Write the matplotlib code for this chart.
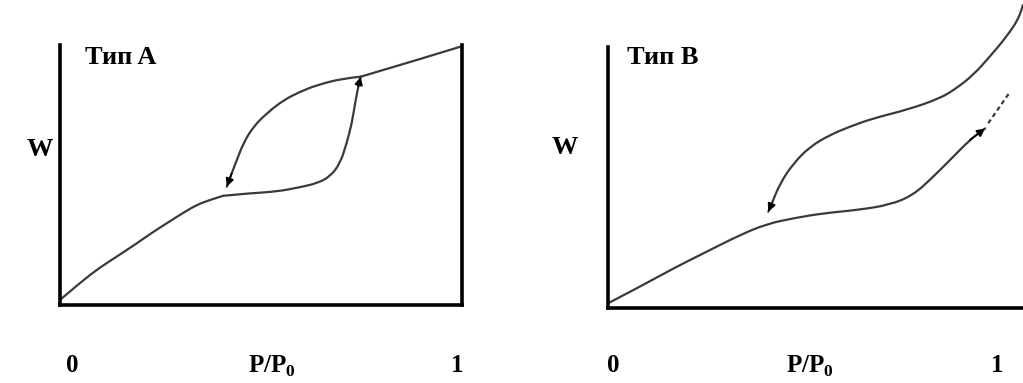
import matplotlib.pyplot as plt
from matplotlib.path import Path
from matplotlib.patches import PathPatch

# --- Тип A: основная кривая + петля гистерезиса ---
a_main_x = [0.0, 0.058, 0.10, 0.141, 0.191, 0.224, 0.265, 0.307, 0.34, 0.373, 0.406]
a_main_y = [0.02, 0.096, 0.145, 0.186, 0.237, 0.273, 0.314, 0.355, 0.385, 0.404, 0.42]

a_ads_x = [0.406, 0.473, 0.539, 0.597, 0.639, 0.672, 0.697, 0.713, 0.726, 0.734, 0.742, 0.748]
a_ads_y = [0.42, 0.43, 0.436, 0.453, 0.468, 0.494, 0.545, 0.622, 0.699, 0.776, 0.84, 0.878]

a_top_x = [0.748, 0.804, 0.887, 0.995]
a_top_y = [0.878, 0.904, 0.942, 0.993]

a_des_x = [0.748, 0.705, 0.639, 0.597, 0.556, 0.514, 0.481, 0.456, 0.44, 0.427, 0.415]
a_des_y = [0.878, 0.872, 0.846, 0.82, 0.788, 0.737, 0.686, 0.622, 0.558, 0.506, 0.455]

# --- Тип B ---
b_main_x = [0.0, 0.082, 0.167, 0.252, 0.337, 0.405, 0.473, 0.549, 0.634, 0.719, 0.779, 0.83, 0.881, 0.923, 0.962]
b_main_y = [0.018, 0.082, 0.152, 0.216, 0.28, 0.322, 0.344, 0.363, 0.375, 0.395, 0.433, 0.503, 0.58, 0.644, 0.688]

b_tail_x = [0.97, 1.026]
b_tail_y = [0.708, 0.829]

b_des_x = [1.058, 1.051, 1.017, 0.974, 0.932, 0.889, 0.847, 0.762, 0.677, 0.617, 0.566, 0.515, 0.473, 0.439, 0.418, 0.409]
b_des_y = [1.16, 1.116, 1.04, 0.963, 0.893, 0.842, 0.803, 0.759, 0.727, 0.695, 0.663, 0.618, 0.554, 0.478, 0.401, 0.369]

LC = '#3a3a3a'
serif = ['Liberation Serif', 'DejaVu Serif']


def smooth_curve(ax, xs, ys, lw=1.6):
    # квадратичные сплайны Безье через середины отрезков
    pts = list(zip(xs, ys))
    verts = [pts[0]]
    codes = [Path.MOVETO]
    for i in range(1, len(pts) - 1):
        mid = ((pts[i][0] + pts[i + 1][0]) / 2, (pts[i][1] + pts[i + 1][1]) / 2)
        verts += [pts[i], mid]
        codes += [Path.CURVE3, Path.CURVE3]
    verts.append(pts[-1])
    codes.append(Path.LINETO)
    patch = PathPatch(Path(verts, codes), facecolor='none', edgecolor=LC,
                      lw=lw, clip_on=False, capstyle='round', joinstyle='round')
    ax.add_patch(patch)


def arrow_end(ax, xs, ys):
    ax.annotate('', xy=(xs[-1], ys[-1]), xytext=(xs[-2], ys[-2]),
                arrowprops=dict(arrowstyle='-|>', color='black', lw=1.2,
                                mutation_scale=12, shrinkA=0, shrinkB=0),
                annotation_clip=False)


fig = plt.figure(figsize=(10.23, 3.83), dpi=100)
W, H = 1023, 383

# панель A: ось x 60..462, ось y 305..45 (пиксели)
ax1 = fig.add_axes([60 / W, 1 - 305 / H, 402 / W, 260 / H])
ax1.set_xlim(0, 1)
ax1.set_ylim(0, 1)
for xs, ys in [(a_main_x, a_main_y), (a_ads_x, a_ads_y), (a_top_x, a_top_y), (a_des_x, a_des_y)]:
    smooth_curve(ax1, xs, ys)
arrow_end(ax1, a_ads_x, a_ads_y)
arrow_end(ax1, a_des_x, a_des_y)
for s in ['left', 'bottom', 'right']:
    ax1.spines[s].set_linewidth(2.6)
ax1.spines['top'].set_visible(False)

# панель B: ось x 608..1023, единица в 1000, ось y 308..47
ax2 = fig.add_axes([608 / W, 1 - 308 / H, 415 / W, 261 / H])
ax2.set_xlim(0, 415 / 392)
ax2.set_ylim(0, 1)
smooth_curve(ax2, b_main_x, b_main_y)
smooth_curve(ax2, b_des_x, b_des_y)
ax2.plot(b_tail_x, b_tail_y, color=LC, lw=1.6, ls=(0, (2, 1.5)), clip_on=False)
arrow_end(ax2, b_main_x, b_main_y)
arrow_end(ax2, b_des_x, b_des_y)
for s in ['left', 'bottom']:
    ax2.spines[s].set_linewidth(2.6)
ax2.spines['top'].set_visible(False)
ax2.spines['right'].set_visible(False)

for ax in (ax1, ax2):
    ax.set_xticks([])
    ax.set_yticks([])

# подписи
txt = dict(family=serif, fontweight='bold', color='black')
fig.text(85 / W, 1 - 57 / H, 'Тип A', fontsize=19, ha='left', va='center', **txt)
fig.text(627 / W, 1 - 57 / H, 'Тип B', fontsize=19, ha='left', va='center', **txt)
fig.text(40 / W, 1 - 150 / H, 'W', fontsize=19, ha='center', va='center', **txt)
fig.text(565 / W, 1 - 148 / H, 'W', fontsize=19, ha='center', va='center', **txt)

plt.rcParams['mathtext.fontset'] = 'custom'
plt.rcParams['mathtext.rm'] = 'Liberation Serif'
for x0, xm, x1 in [(72, 272, 457), (613, 810, 997)]:
    fig.text(x0 / W, 1 - 366 / H, '0', fontsize=18, ha='center', va='center', **txt)
    fig.text(xm / W, 1 - 366 / H, r'P/P$_\mathregular{0}$', fontsize=18, ha='center', va='center', **txt)
    fig.text(x1 / W, 1 - 366 / H, '1', fontsize=18, ha='center', va='center', **txt)

fig.savefig('out.png', dpi=100)
